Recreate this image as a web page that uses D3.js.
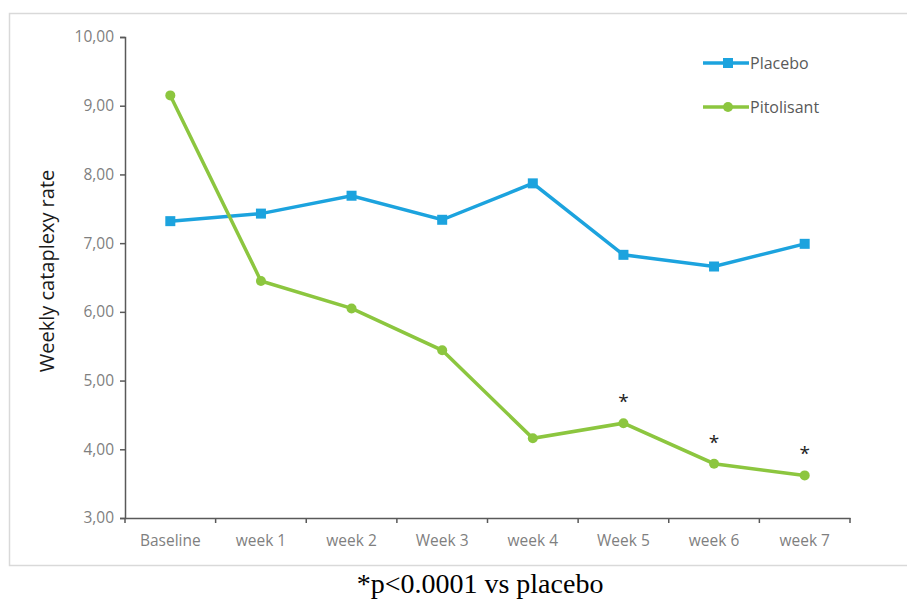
<!DOCTYPE html>
<html>
<head>
<meta charset="utf-8">
<script src="https://cdn.jsdelivr.net/npm/d3@7"></script>
<style>
  body { margin: 0; background: #fff; }
  svg { display: block; }
</style>
</head>
<body>
<div id="chart"></div>
<script>
let CATEGORIES = ["Baseline", "week 1", "week 2", "Week 3", "week 4", "Week 5", "week 6", "week 7"];
let PLACEBO = [7.32, 7.43, 7.69, 7.34, 7.87, 6.83, 6.66, 6.99];
let PITOLISANT = [9.15, 6.45, 6.05, 5.44, 4.16, 4.38, 3.79, 3.62];
let SIGNIFICANT = ["Week 5", "week 6", "week 7"];
let Y_TICKS = [3, 4, 5, 6, 7, 8, 9, 10];

let BLUE = "#1ca3de";
let GREEN = "#8cc63f";
let FONT = "'Open Sans', Lato, sans-serif";
let W = 907, H = 599;
let margin = { left: 125, right: 57, top: 37, bottom: 81 };

let svg = d3.select("#chart").append("svg").
	attr("width", W).
	attr("height", H);

// frame round the chart
svg.append("rect").
	attr("x", 9.5).
	attr("y", 13.5).
	attr("width", W + 10).
	attr("height", 552).
	attr("fill", "#fff").
	attr("stroke", "#d9d9d9").
	attr("stroke-width", 1.5);

let x = d3.scaleBand().
	domain(CATEGORIES).
	range([margin.left, W - margin.right]);

let y = d3.scaleLinear().
	domain([3, 10]).
	range([H - margin.bottom, margin.top]);

let fmt = d => d3.format(".2f")(d).replace(".", ",");

let yAxis = svg.append("g").
	attr("transform", `translate(${margin.left},0)`).
	call(d3.axisLeft(y).tickValues(Y_TICKS).tickFormat(fmt).tickSize(5).tickPadding(6));

let xAxis = svg.append("g").
	attr("transform", `translate(0,${H - margin.bottom})`).
	call(d3.axisBottom(x).tickSize(0).tickPadding(17));

// category boundary ticks
xAxis.selectAll(".bound").
	data(d3.range(CATEGORIES.length + 1)).
	join("line").
	attr("class", "bound").
	attr("x1", i => margin.left + i * x.step()).
	attr("x2", i => margin.left + i * x.step()).
	attr("y1", 0).
	attr("y2", 5).
	attr("stroke", "#595959").
	attr("stroke-width", 1.5);

[yAxis, xAxis].forEach(g => {
	g.select(".domain").attr("stroke", "#595959").attr("stroke-width", 1.5);
	g.selectAll(".tick line").attr("stroke", "#595959").attr("stroke-width", 1.5);
	g.selectAll("text").
		attr("fill", "#7f7f7f").
		style("font-family", FONT).
		style("font-size", "15.5px");
});

let cx = d => x(d) + x.bandwidth() / 2;
let line = d3.line().
	x((d, i) => cx(CATEGORIES[i])).
	y(d => y(d));

svg.append("path").
	datum(PLACEBO).
	attr("d", line).
	attr("fill", "none").
	attr("stroke", BLUE).
	attr("stroke-width", 3.5);

svg.append("g").
	selectAll("rect").
	data(PLACEBO).
	join("rect").
	attr("x", (d, i) => cx(CATEGORIES[i]) - 5).
	attr("y", d => y(d) - 5).
	attr("width", 10).
	attr("height", 10).
	attr("fill", BLUE);

svg.append("path").
	datum(PITOLISANT).
	attr("d", line).
	attr("fill", "none").
	attr("stroke", GREEN).
	attr("stroke-width", 3.5);

svg.append("g").
	selectAll("circle").
	data(PITOLISANT).
	join("circle").
	attr("cx", (d, i) => cx(CATEGORIES[i])).
	attr("cy", d => y(d)).
	attr("r", 5).
	attr("fill", GREEN);

// significance stars
svg.append("g").
	selectAll("text").
	data(SIGNIFICANT).
	join("text").
	attr("x", d => cx(d)).
	attr("y", d => y(PITOLISANT[CATEGORIES.indexOf(d)]) - 15).
	attr("text-anchor", "middle").
	attr("fill", "#222").
	style("font-family", FONT).
	style("font-size", "19px").
	text("*");

// legend
let legend = svg.append("g").
	selectAll("g").
	data([{ name: "Placebo", color: BLUE, shape: "square" }, { name: "Pitolisant", color: GREEN, shape: "circle" }]).
	join("g").
	attr("transform", (d, i) => `translate(703,${63 + i * 44})`);

legend.append("line").
	attr("x1", 0).
	attr("x2", 46).
	attr("stroke", d => d.color).
	attr("stroke-width", 3.5);

legend.filter(d => d.shape === "square").append("rect").
	attr("x", 20).
	attr("y", -5).
	attr("width", 10).
	attr("height", 10).
	attr("fill", d => d.color);

legend.filter(d => d.shape === "circle").append("circle").
	attr("cx", 25).
	attr("r", 5).
	attr("fill", d => d.color);

legend.append("text").
	attr("x", 47).
	attr("dy", "0.35em").
	attr("fill", "#595959").
	style("font-family", FONT).
	style("font-size", "16px").
	text(d => d.name);

// y axis title
svg.append("text").
	attr("transform", "translate(47,271) rotate(-90)").
	attr("text-anchor", "middle").
	attr("dy", "0.35em").
	attr("fill", "#1a1a1a").
	style("font-family", FONT).
	style("font-size", "20px").
	text("Weekly cataplexy rate");

// footnote below the frame
svg.append("text").
	attr("x", 480).
	attr("y", 593).
	attr("text-anchor", "middle").
	attr("fill", "#000").
	style("font-family", "'Liberation Serif', 'Times New Roman', serif").
	style("font-size", "28px").
	text("*p<0.0001 vs placebo");
</script>
</body>
</html>
